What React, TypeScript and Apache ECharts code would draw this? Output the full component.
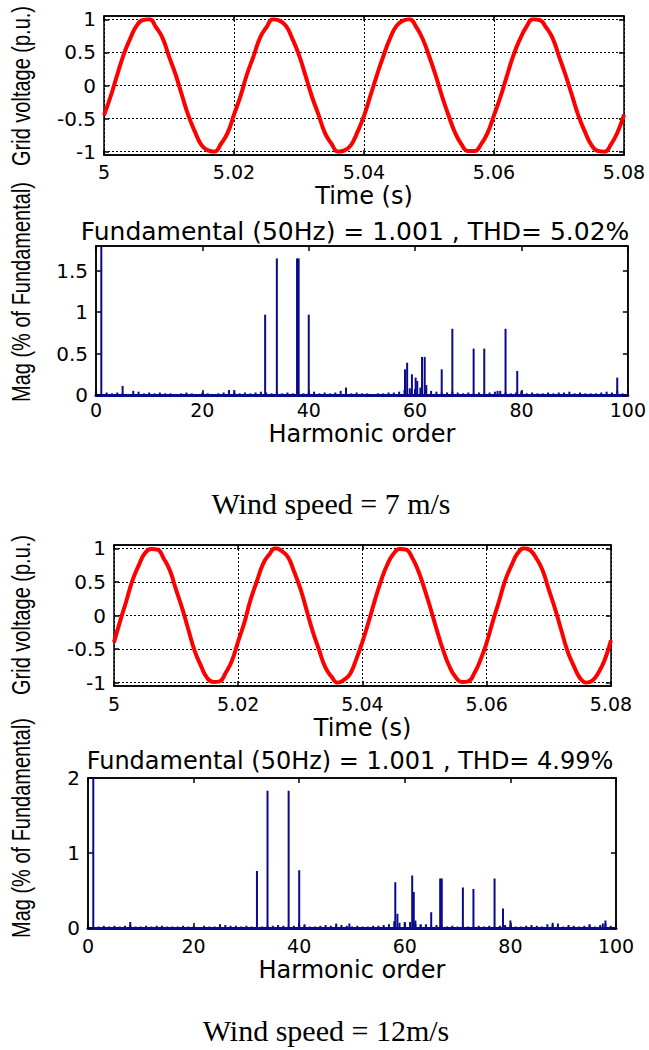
import React, { useEffect, useRef } from "react";
import * as echarts from "echarts";

// ---------- data ----------
const timeStart = 5;
const timeStep = 0.001;

const voltage7 = [
  -0.45, -0.17, 0.15, 0.46, 0.7, 0.9, 0.99, 1.0, 0.88, 0.72, 0.44, 0.17, -0.15, -0.46, -0.7, -0.9, -0.98, -1.0, -0.88, -0.72,
  -0.44, -0.16, 0.17, 0.44, 0.72, 0.88, 1.0, 0.98, 0.9, 0.7, 0.46, 0.15, -0.17, -0.44, -0.72, -0.88, -1.0, -0.98, -0.9, -0.7,
  -0.46, -0.15, 0.16, 0.45, 0.71, 0.9, 0.98, 1.0, 0.89, 0.71, 0.45, 0.16, -0.16, -0.45, -0.71, -0.89, -0.99, -0.99, -0.89, -0.72,
  -0.45, -0.17, 0.15, 0.46, 0.7, 0.89, 1.0, 0.99, 0.88, 0.72, 0.44, 0.16, -0.15, -0.46, -0.7, -0.9, -0.99, -1.0, -0.89, -0.71,
  -0.44,
];

const voltage12 = [
  -0.4, -0.08, 0.22, 0.53, 0.75, 0.93, 0.99, 0.98, 0.85, 0.67, 0.38, 0.1, -0.22, -0.53, -0.75, -0.93, -0.99, -0.98, -0.85, -0.67,
  -0.38, -0.1, 0.24, 0.51, 0.77, 0.91, 1.0, 0.96, 0.87, 0.65, 0.4, 0.08, -0.24, -0.51, -0.77, -0.91, -1.0, -0.96, -0.87, -0.65,
  -0.39, -0.09, 0.23, 0.52, 0.76, 0.92, 0.99, 0.98, 0.86, 0.66, 0.39, 0.09, -0.23, -0.52, -0.76, -0.92, -0.99, -0.98, -0.86, -0.66,
  -0.4, -0.08, 0.22, 0.53, 0.75, 0.93, 1.0, 0.97, 0.85, 0.67, 0.38, 0.1, -0.22, -0.53, -0.75, -0.93, -1.0, -0.97, -0.85, -0.66,
  -0.37,
];

// Harmonic spectra: dominant components (order, % of fundamental)
const peakOrders7 = [1, 31.8, 34, 37.8, 38.1, 40, 5, 25, 26, 47, 58.1, 58.5, 59.4, 60.1, 60.4, 61.3, 61.8, 62.1, 65, 67, 71, 73, 75.5, 77, 79.2, 80, 98];
const peakMags7 = [100, 0.97, 1.65, 1.65, 1.65, 0.97, 0.11, 0.06, 0.06, 0.09, 0.31, 0.39, 0.25, 0.21, 0.17, 0.46, 0.46, 0.12, 0.31, 0.8, 0.56, 0.56, 0.05, 0.8, 0.29, 0.05, 0.21];

const peakOrders12 = [1, 32, 34, 38, 40, 8, 25, 41, 47, 49.5, 58.2, 58.6, 60, 61.4, 61.7, 62, 63, 65, 66.7, 67, 71, 73, 77, 78.6, 80, 88, 89, 95, 97.5, 98];
const peakMags12 = [100, 0.76, 1.83, 1.83, 0.77, 0.08, 0.05, 0.05, 0.06, 0.06, 0.61, 0.19, 0.08, 0.7, 0.48, 0.1, 0.05, 0.21, 0.66, 0.66, 0.54, 0.52, 0.66, 0.26, 0.1, 0.07, 0.06, 0.05, 0.06, 0.1];

// low-level residual components at orders 2..100
const noiseStartOrder = 2;
const noise7 = [
  0.03, 0.02, 0.03, 0.02, 0.01, 0.05, 0.04, 0.02, 0.03,
  0.02, 0.03, 0.02, 0.02, 0.01, 0.02, 0.03, 0.02, 0.01, 0.03,
  0.02, 0.01, 0.02, 0.03, 0.04, 0.03, 0.02, 0.03, 0.02, 0.03,
  0.04, 0.03, 0.02, 0.03, 0.02, 0.03, 0.02, 0.03, 0.02, 0.03,
  0.04, 0.02, 0.03, 0.02, 0.03, 0.05, 0.03, 0.02, 0.03, 0.02,
  0.02, 0.01, 0.02, 0.02, 0.03, 0.03, 0.04, 0.06, 0.08, 0.07,
  0.09, 0.07, 0.05, 0.04, 0.03, 0.03, 0.04, 0.03, 0.02, 0.03,
  0.02, 0.03, 0.02, 0.03, 0.04, 0.05, 0.03, 0.02, 0.03, 0.04,
  0.02, 0.03, 0.02, 0.02, 0.03, 0.02, 0.03, 0.03, 0.04, 0.02,
  0.03, 0.02, 0.02, 0.02, 0.03, 0.04, 0.03, 0.05, 0.02, 0.03,
];
const noise12 = [
  0.02, 0.03, 0.02, 0.03, 0.02, 0.03, 0.04, 0.02, 0.02,
  0.03, 0.02, 0.03, 0.03, 0.02, 0.02, 0.02, 0.03, 0.02, 0.02,
  0.01, 0.03, 0.02, 0.02, 0.03, 0.04, 0.03, 0.03, 0.02, 0.03,
  0.02, 0.03, 0.02, 0.03, 0.03, 0.04, 0.03, 0.02, 0.03, 0.04,
  0.03, 0.02, 0.02, 0.03, 0.04, 0.03, 0.02, 0.04, 0.03, 0.02,
  0.03, 0.02, 0.02, 0.03, 0.03, 0.04, 0.05, 0.09, 0.07, 0.06,
  0.08, 0.06, 0.04, 0.05, 0.03, 0.04, 0.03, 0.02, 0.03, 0.02,
  0.03, 0.02, 0.02, 0.03, 0.02, 0.03, 0.02, 0.03, 0.04, 0.03,
  0.02, 0.02, 0.03, 0.04, 0.03, 0.02, 0.05, 0.04, 0.03, 0.02,
  0.04, 0.03, 0.02, 0.03, 0.04, 0.02, 0.04, 0.06, 0.03, 0.02,
];

const titleText7 = "Fundamental (50Hz) = 1.001 , THD= 5.02%";
const titleText12 = "Fundamental (50Hz) = 1.001 , THD= 4.99%";
const caption7 = "Wind speed = 7 m/s";
const caption12 = "Wind speed = 12m/s";

// ---------- helpers ----------
const FONT = "DejaVu Sans";
const RED = "#ff0000";
const NAVY = "#0a0a8c";

const toPairs = (vals: number[]) => vals.map((v, i) => [+(timeStart + i * timeStep).toFixed(3), v]);
const spectrum = (orders: number[], mags: number[], noise: number[]) => {
  const d: number[][] = noise.map((v, i) => [noiseStartOrder + i, v]);
  orders.forEach((o, i) => d.push([o, mags[i]]));
  return d;
};

const tick = { show: true, inside: true, length: 5, lineStyle: { color: "#000", width: 1.5 } };
const line = { show: true, onZero: false, lineStyle: { color: "#000", width: 1.5 } };
const lbl = (margin: number, fmt?: (v: number) => string, size = 20) => ({
  show: true,
  color: "#000",
  fontFamily: FONT,
  fontSize: size,
  margin,
  formatter: fmt,
});
const dotted = { show: true, lineStyle: { color: "#000", type: [2, 2], width: 1 } };
const timeFmt = (v: number) => String(+v.toFixed(2));
const numFmt = (v: number) => String(+v.toFixed(2));

export default function App() {
  const ref = useRef<HTMLDivElement>(null);
  useEffect(() => {
    if (!ref.current) return;
    const chart = echarts.init(ref.current, undefined, { renderer: "svg" });

    // geometry
    const G0 = { left: 104, top: 16, width: 520, height: 139 };
    const G0d = { left: 104, top: 16 + (139 * 0.05) / 2.1, width: 520, height: (139 * 2) / 2.1 };
    const G1 = { left: 96, top: 246, width: 533, height: 149 };
    const G2 = { left: 114, top: 545, width: 497, height: 141 };
    const G2d = { left: 114, top: 545 + (141 * 0.05) / 2.1, width: 497, height: (141 * 2) / 2.1 };
    const G3 = { left: 88, top: 778, width: 528, height: 150 };

    const boxGrid = (g: any) => ({ ...g, show: true, borderColor: "#000", borderWidth: 1.5, backgroundColor: "transparent" });

    const timeAxisBottom = (gi: number, margin: number, gap: number) => ({
      type: "value", gridIndex: gi, position: "bottom", min: 5, max: 5.08, interval: 0.02,
      axisLine: line, axisTick: tick, axisLabel: lbl(margin, timeFmt, 19), splitLine: dotted,
      name: "Time (s)", nameLocation: "middle", nameGap: gap,
      nameTextStyle: { fontFamily: FONT, fontSize: 24, color: "#000" },
    });
    const timeAxisTop = (gi: number) => ({
      type: "value", gridIndex: gi, position: "top", min: 5, max: 5.08, interval: 0.02,
      axisLine: line, axisTick: tick, axisLabel: { show: false }, splitLine: { show: false },
    });
    const hiddenX = (gi: number) => ({ type: "value", gridIndex: gi, min: 5, max: 5.08, show: false });
    const hiddenY = (gi: number) => ({ type: "value", gridIndex: gi, min: -1.05, max: 1.05, show: false });
    const voltY = (gi: number, pos: string) => ({
      type: "value", gridIndex: gi, position: pos, min: -1, max: 1, interval: 0.5,
      axisLine: { show: false }, axisTick: tick,
      axisLabel: pos === "left" ? lbl(8, numFmt) : { show: false },
      splitLine: pos === "left" ? dotted : { show: false },
    });
    const harmX = (gi: number, pos: string, margin: number, gap: number) => ({
      type: "value", gridIndex: gi, position: pos, min: 0, max: 100, interval: 20,
      axisLine: pos === "bottom" ? { show: true, onZero: false, lineStyle: { color: NAVY, width: 3 } } : line,
      axisTick: tick,
      axisLabel: pos === "bottom" ? lbl(margin, undefined, 19) : { show: false },
      splitLine: { show: false },
      ...(pos === "bottom"
        ? { name: "Harmonic order", nameLocation: "middle", nameGap: gap, nameTextStyle: { fontFamily: FONT, fontSize: 24, color: "#000" } }
        : {}),
    });
    const harmY = (gi: number, pos: string, max: number, interval: number) => ({
      type: "value", gridIndex: gi, position: pos, min: 0, max, interval,
      axisLine: line, axisTick: tick,
      axisLabel: pos === "left" ? { ...lbl(8, numFmt), showMaxLabel: max % interval === 0 } : { show: false },
      splitLine: { show: false },
    });

    const vText = (text: string, x: number, y: number) => ({
      type: "text", x, y, rotation: Math.PI / 2, scaleY: 1.25,
      style: { text, fontFamily: "Liberation Sans", fontSize: 20, fill: "#000", textAlign: "center", textVerticalAlign: "middle" },
    });
    const hText = (text: string, x: number, y: number, size: number, family: string) => ({
      type: "text", x, y,
      style: { text, fontFamily: family, fontSize: size, fill: "#000", textAlign: "center", textVerticalAlign: "middle" },
    });

    chart.setOption({
      animation: false,
      backgroundColor: "#fff",
      grid: [boxGrid(G0), G0d, boxGrid(G1), boxGrid(G2), G2d, boxGrid(G3)],
      xAxis: [
        timeAxisBottom(0, 7, 29), timeAxisTop(0), hiddenX(1),
        harmX(2, "bottom", 5, 27), harmX(2, "top", 0, 0),
        timeAxisBottom(3, 8, 30), timeAxisTop(3), hiddenX(4),
        harmX(5, "bottom", 8, 30), harmX(5, "top", 0, 0),
      ],
      yAxis: [
        hiddenY(0), voltY(1, "left"), voltY(1, "right"),
        harmY(2, "left", 1.8, 0.5), harmY(2, "right", 1.8, 0.5),
        hiddenY(3), voltY(4, "left"), voltY(4, "right"),
        harmY(5, "left", 2, 1), harmY(5, "right", 2, 1),
      ],
      series: [
        {
          type: "line", xAxisIndex: 2, yAxisIndex: 1, data: toPairs(voltage7), smooth: true,
          showSymbol: false, lineStyle: { color: RED, width: 4 },
        },
        {
          type: "bar", xAxisIndex: 3, yAxisIndex: 3, data: spectrum(peakOrders7, peakMags7, noise7),
          barWidth: 2, clip: true, itemStyle: { color: NAVY },
        },
        {
          type: "line", xAxisIndex: 7, yAxisIndex: 6, data: toPairs(voltage12), smooth: true,
          showSymbol: false, lineStyle: { color: RED, width: 4 },
        },
        {
          type: "bar", xAxisIndex: 8, yAxisIndex: 8, data: spectrum(peakOrders12, peakMags12, noise12),
          barWidth: 2, clip: true, itemStyle: { color: NAVY },
        },
      ],
      graphic: [
        vText("Grid voltage (p.u.)", 22, 86),
        vText("Mag (% of Fundamental)", 22, 292),
        vText("Grid voltage (p.u.)", 22, 615),
        vText("Mag (% of Fundamental)", 22, 828),
        hText(titleText7, 355, 231, 25, FONT),
        hText(titleText12, 350, 761, 24, FONT),
        hText(caption7, 331, 503, 30, "Liberation Serif"),
        hText(caption12, 326, 1030, 30, "Liberation Serif"),
      ],
    });
    return () => chart.dispose();
  }, []);
  return <div ref={ref} style={{ position: "absolute", left: 0, top: 0, width: 649, height: 1050, background: "#fff" }} />;
}
